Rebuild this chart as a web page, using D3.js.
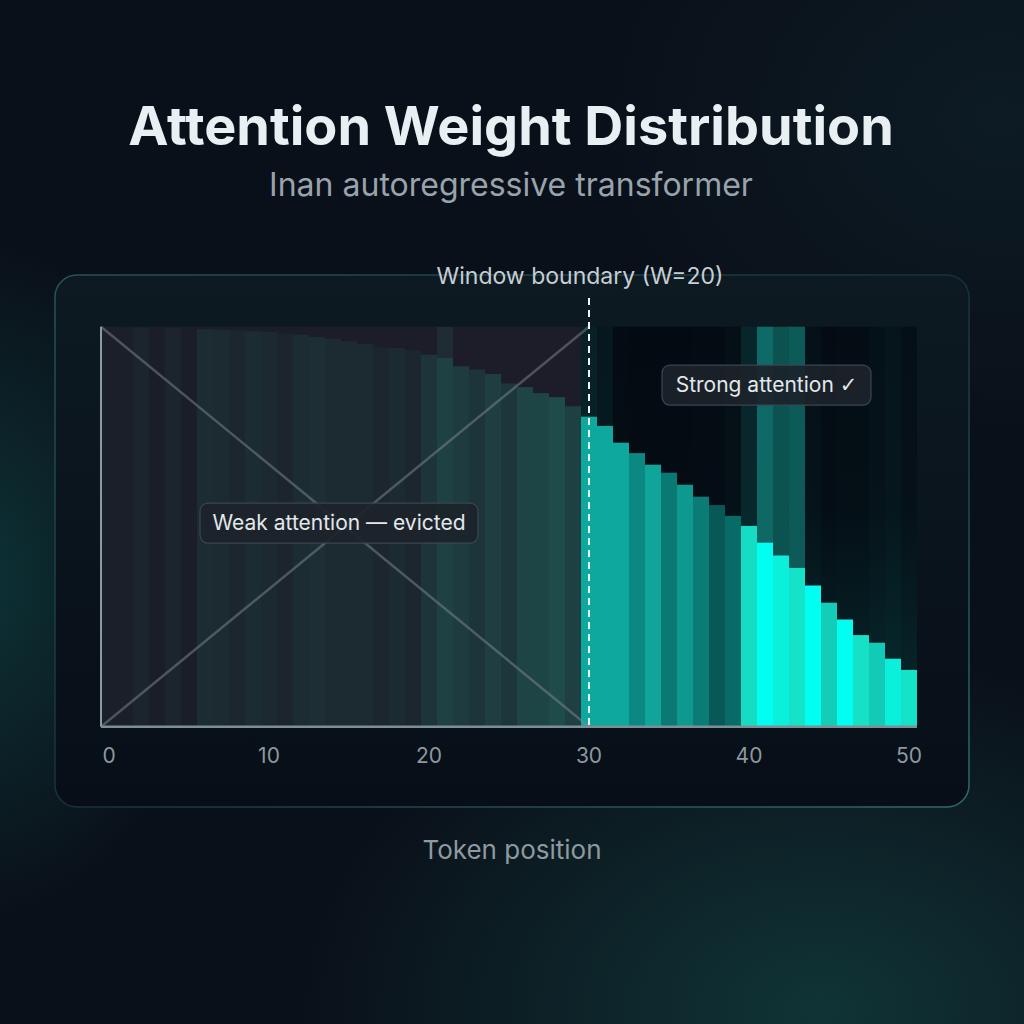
<!DOCTYPE html>
<html lang="en">
<head>
<meta charset="utf-8">
<script src="https://d3js.org/d3.v7.min.js"></script>
<style>
  html, body { margin: 0; padding: 0; background: #0a1018; }
  svg { display: block; font-family: Inter, "Noto Sans", sans-serif; }
</style>
</head>
<body>
<script>
// ---- data ----
const tokens = d3.range(0, 51);
const weights = [
  1.000, 0.999, 0.998, 0.997, 0.996, 0.995, 0.994, 0.992, 0.991, 0.988,
  0.987, 0.983, 0.980, 0.974, 0.970, 0.964, 0.957, 0.949, 0.947, 0.941,
  0.930, 0.922, 0.901, 0.893, 0.882, 0.858, 0.849, 0.834, 0.824, 0.801,
  0.775, 0.752, 0.710, 0.684, 0.655, 0.635, 0.605, 0.575, 0.554, 0.527,
  0.502, 0.460, 0.428, 0.397, 0.353, 0.310, 0.268, 0.229, 0.210, 0.170,
  0.142
];
// colour intensity of each bar
const shade = [
  0.02, 0.02, 0.13, 0.00, 0.16, 0.00, 0.31, 0.27, 0.18, 0.31,
  0.24, 0.16, 0.31, 0.38, 0.29, 0.27, 0.29, 0.18, 0.27, 0.18,
  0.51, 0.78, 0.67, 0.49, 0.71, 0.53, 0.84, 0.87, 1.00, 0.76,
  0.50, 0.50, 0.50, 0.30, 0.48, 0.20, 0.40, 0.22, 0.00, 0.12,
  0.78, 1.00, 0.90, 0.82, 1.00, 0.70, 1.00, 0.80, 0.68, 0.90,
  0.82
];
// intensity of the full-height column behind each bar
const glow = [
  0, 0, 0, 0, 0, 0, 0, 0, 0, 0,
  0, 0, 0, 0, 0, 0, 0, 0, 0, 0,
  0, 0.5, 0, 0, 0, 0, 0, 0, 0, 0,
  0.25, 0.15, 0.02, 0.01, 0.01, 0.01, 0.01, 0.02, 0.02, 0.06,
  0.30, 1.00, 0.75, 0.85, 0.08, 0.02, 0.04, 0.04, 0.08, 0.12,
  0.06
];
const tickValues = [0, 10, 20, 30, 40, 50];
const windowStart = 30;

const width = 1024, height = 1024;
const plotTop = 326.7, plotBottom = 726.7;

const x = d3.scaleBand().domain(tokens).range([101, 917]).padding(0);
const y = d3.scaleLinear().domain([0, 1]).range([plotBottom, plotTop]);

const barActive = d3.scaleLinear().domain([0, 0.5, 0.8, 1])
  .range(["#075857", "#0fa89e", "#16e0c6", "#00fff0"]);
const barEvicted = d3.scaleLinear().domain([0, 1]).range(["#1b1e28", "#1f4b4b"]);
const stripActive = d3.scaleLinear().domain([0, 1]).range(["#040911", "#0e6a66"]);
const stripEvicted = d3.scaleLinear().domain([0, 1]).range(["#1c1d29", "#223a3e"]);

const svg = d3.select("body").append("svg")
  .attr("width", width)
  .attr("height", height);

const defs = svg.append("defs");

function radial(id, color, op) {
  const g = defs.append("radialGradient").attr("id", id);
  g.append("stop").attr("offset", "0%").attr("stop-color", color).attr("stop-opacity", op);
  g.append("stop").attr("offset", "100%").attr("stop-color", color).attr("stop-opacity", 0);
}
radial("glowLeft", "#0f4646", 0.65);
radial("glowBR", "#124040", 0.75);
radial("glowTR", "#12303a", 0.35);

const cardFill = defs.append("linearGradient").attr("id", "cardFill")
  .attr("x1", 0).attr("y1", 0).attr("x2", 0).attr("y2", 1);
cardFill.append("stop").attr("offset", "0%").attr("stop-color", "#0d1a22");
cardFill.append("stop").attr("offset", "100%").attr("stop-color", "#070e17");

const cardStroke = defs.append("linearGradient").attr("id", "cardStroke")
  .attr("x1", 0).attr("y1", 0).attr("x2", 1).attr("y2", 1);
cardStroke.append("stop").attr("offset", "0%").attr("stop-color", "#245556");
cardStroke.append("stop").attr("offset", "50%").attr("stop-color", "#16303a");
cardStroke.append("stop").attr("offset", "100%").attr("stop-color", "#2f6a68");

const fade = defs.append("linearGradient").attr("id", "stripFade")
  .attr("x1", 0).attr("y1", 0).attr("x2", 0).attr("y2", 1);
fade.append("stop").attr("offset", "0%").attr("stop-color", "#0b5050").attr("stop-opacity", 0);
fade.append("stop").attr("offset", "45%").attr("stop-color", "#0b5050").attr("stop-opacity", 0.03);
fade.append("stop").attr("offset", "100%").attr("stop-color", "#0b5050").attr("stop-opacity", 0.4);

// background
svg.append("rect").attr("width", width).attr("height", height).attr("fill", "#0a1019");
svg.append("ellipse").attr("cx", -30).attr("cy", 580).attr("rx", 240).attr("ry", 340).attr("fill", "url(#glowLeft)");
svg.append("ellipse").attr("cx", 820).attr("cy", 1010).attr("rx", 520).attr("ry", 360).attr("fill", "url(#glowBR)");
svg.append("ellipse").attr("cx", 1000).attr("cy", 120).attr("rx", 400).attr("ry", 320).attr("fill", "url(#glowTR)");

// titles
svg.append("text")
  .attr("x", 511).attr("y", 145)
  .attr("text-anchor", "middle")
  .attr("fill", "#e8f0f4")
  .style("font-size", "54px").style("font-weight", 700)
  .text("Attention Weight Distribution");

svg.append("text")
  .attr("x", 511).attr("y", 196)
  .attr("text-anchor", "middle")
  .attr("fill", "#98a3ac")
  .style("font-size", "32px")
  .text("Inan autoregressive transformer");

// card
svg.append("rect")
  .attr("x", 55).attr("y", 275).attr("width", 914).attr("height", 532).attr("rx", 22)
  .attr("fill", "url(#cardFill)")
  .attr("stroke", "url(#cardStroke)").attr("stroke-width", 1.5);

const plot = svg.append("g");

// full-height columns
plot.selectAll("rect.strip")
  .data(tokens)
  .enter().append("rect")
  .attr("class", "strip")
  .attr("x", d => x(d))
  .attr("y", plotTop)
  .attr("width", x.bandwidth())
  .attr("height", plotBottom - plotTop)
  .attr("fill", d => d < windowStart ? stripEvicted(glow[d]) : stripActive(glow[d]));

plot.append("rect")
  .attr("x", x(windowStart)).attr("y", plotTop)
  .attr("width", x.range()[1] - x(windowStart))
  .attr("height", plotBottom - plotTop)
  .attr("fill", "url(#stripFade)");

// bars
plot.selectAll("rect.bar")
  .data(tokens)
  .enter().append("rect")
  .attr("class", "bar")
  .attr("x", d => x(d))
  .attr("y", d => y(weights[d]))
  .attr("width", x.bandwidth())
  .attr("height", d => y(0) - y(weights[d]))
  .attr("fill", d => d < windowStart ? barEvicted(shade[d]) : barActive(shade[d]));

const x0 = x(0);
const xw = x(windowStart) + x.bandwidth() / 2;

// X over the evicted region
plot.append("line")
  .attr("x1", x0).attr("y1", plotTop).attr("x2", xw).attr("y2", plotBottom)
  .attr("stroke", "rgba(130,136,146,0.5)").attr("stroke-width", 2.5);
plot.append("line")
  .attr("x1", x0).attr("y1", plotBottom).attr("x2", xw).attr("y2", plotTop)
  .attr("stroke", "rgba(130,136,146,0.5)").attr("stroke-width", 2.5);

// axis lines
plot.append("line")
  .attr("x1", x0).attr("y1", plotTop).attr("x2", x0).attr("y2", plotBottom)
  .attr("stroke", "#8c9aa2").attr("stroke-width", 2);
plot.append("line")
  .attr("x1", x0).attr("y1", plotBottom).attr("x2", x.range()[1]).attr("y2", plotBottom)
  .attr("stroke", "#7e8e96").attr("stroke-width", 2.5);

// window boundary
plot.append("line")
  .attr("x1", xw).attr("y1", 298).attr("x2", xw).attr("y2", plotBottom)
  .attr("stroke", "#eef3f5").attr("stroke-width", 2)
  .attr("stroke-dasharray", "7,5");

svg.append("text")
  .attr("x", xw - 9).attr("y", 284)
  .attr("text-anchor", "middle")
  .attr("fill", "#c6ced3")
  .style("font-size", "23px")
  .text("Window boundary (W=20)");

// x axis
const axis = svg.append("g")
  .attr("transform", "translate(0," + plotBottom + ")")
  .call(d3.axisBottom(x).tickValues(tickValues).tickSize(0).tickPadding(21));
axis.select(".domain").remove();
axis.selectAll("text")
  .attr("fill", "#8d989f")
  .style("font-size", "21px")
  .style("font-family", "Inter, 'Noto Sans', sans-serif");

svg.append("text")
  .attr("x", 512).attr("y", 859)
  .attr("text-anchor", "middle")
  .attr("fill", "#8e99a0")
  .style("font-size", "26px")
  .text("Token position");

// callouts
function callout(cx, cy, w, label, mark) {
  const g = svg.append("g");
  g.append("rect")
    .attr("x", cx - w / 2).attr("y", cy - 20)
    .attr("width", w).attr("height", 40).attr("rx", 8)
    .attr("fill", "rgba(28,35,42,0.92)")
    .attr("stroke", "#3b4650").attr("stroke-width", 1.2);
  const t = g.append("text")
    .attr("x", cx).attr("y", cy + 7)
    .attr("text-anchor", "middle")
    .attr("fill", "#e2e8eb")
    .style("font-size", "21px")
    .text(label);
  if (mark) {
    t.append("tspan").style("font-family", "'DejaVu Sans', sans-serif").text(mark);
  }
}
callout(x(15) - 2, y(0.509), 278, "Weak attention \u2014 evicted");
callout(x(41) + 9.5, y(0.854), 209, "Strong attention ", "\u2713");
</script>
</body>
</html>
